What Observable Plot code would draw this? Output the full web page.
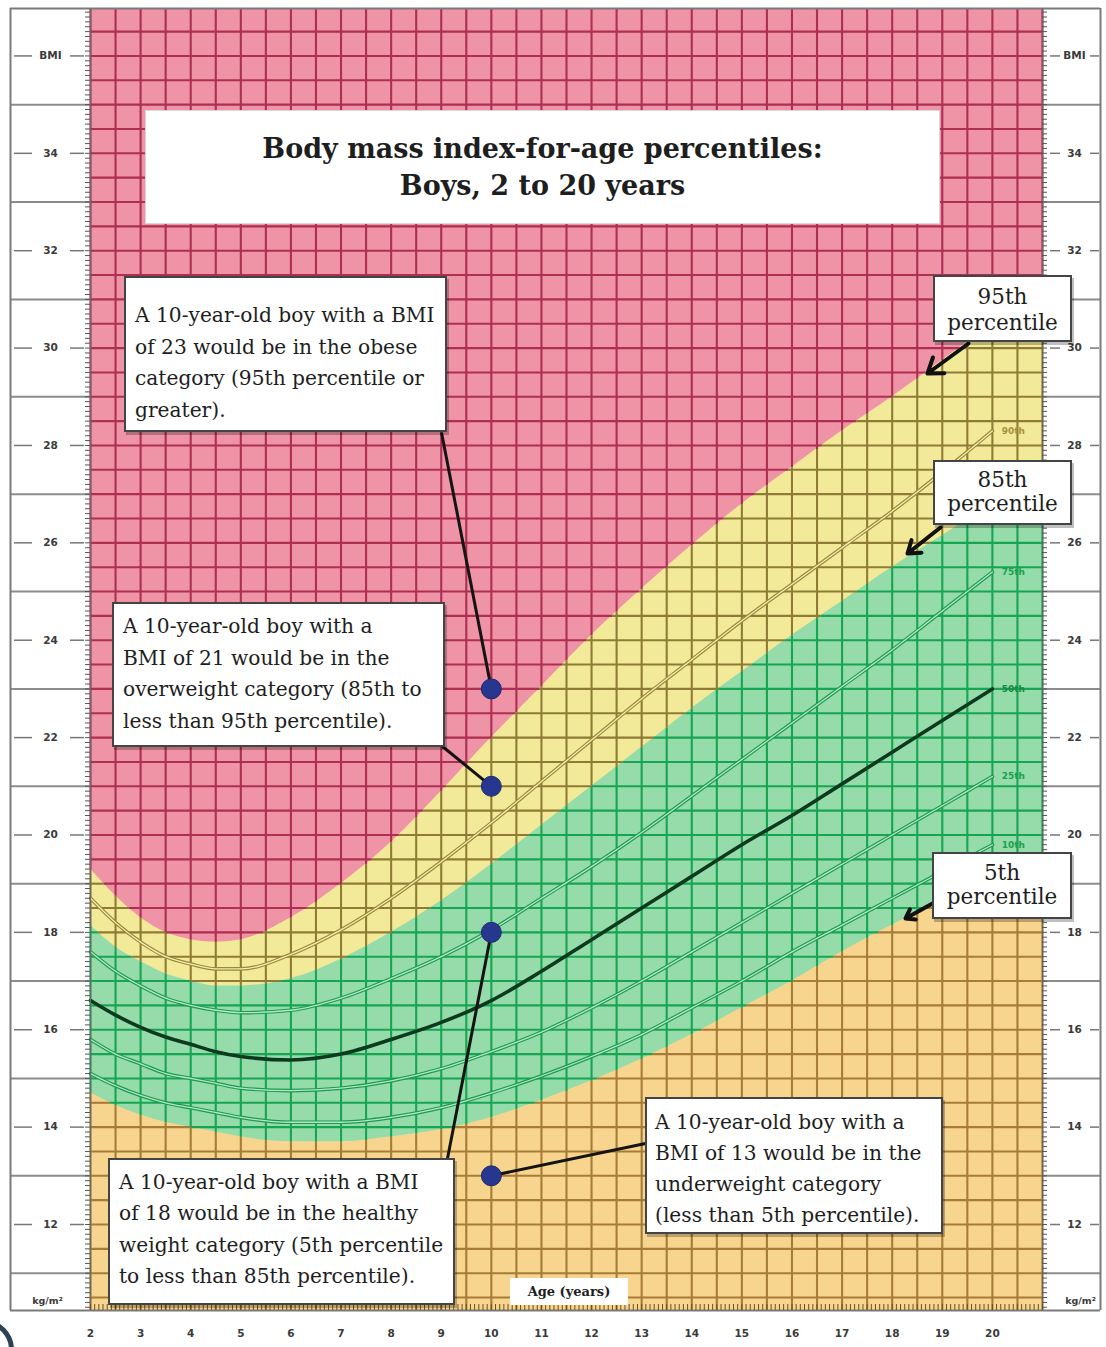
<!DOCTYPE html>
<html><head><meta charset="utf-8">
<script src="https://cdn.jsdelivr.net/npm/d3@7"></script>
<script src="https://cdn.jsdelivr.net/npm/@observablehq/plot@0.6"></script>
<style>
html,body{margin:0;padding:0;background:#fff;overflow:hidden;}
#wrap{position:relative;width:1106px;height:1347px;overflow:hidden;background:#fff;}
#chart{position:absolute;left:0;top:0;}
.box{position:absolute;background:#fff;box-sizing:border-box;font-family:"DejaVu Serif",serif;color:#1e1e1e;white-space:nowrap;}
.note{border:2px solid #444;box-shadow:2px 3px 0 rgba(0,0,0,0.25);font-size:20.2px;}
.tag{border:2px solid #444;box-shadow:2px 3px 0 rgba(0,0,0,0.25);font-size:21.5px;text-align:center;}
.title{font-weight:bold;font-size:27px;text-align:center;border:1px solid #d8d8d8;}
.age{font-weight:bold;font-size:13px;text-align:center;line-height:27px;}
.arc{position:absolute;border:5px solid #2e4352;border-radius:50%;box-sizing:border-box;}
</style></head>
<body><div id="wrap"><div id="chart"></div></div>
<script>
// ---------------- data ----------------
const ages = [2, 2.5, 3, 3.5, 4, 4.5, 5, 6, 7, 8, 9, 10, 11, 12, 13, 14, 15, 16, 17, 18, 19, 20];
const p5  = [14.7,14.45,14.25,14.1,14.0,13.9,13.8,13.7,13.7,13.8,13.95,14.2,14.55,14.95,15.4,15.9,16.45,17.0,17.6,18.15,18.65,19.1];
const p10 = [15.1,14.85,14.65,14.5,14.4,14.3,14.2,14.1,14.1,14.2,14.4,14.7,15.05,15.45,15.9,16.45,17.0,17.6,18.15,18.7,19.25,19.8];
const p25 = [15.8,15.5,15.3,15.1,15.0,14.9,14.8,14.75,14.8,14.95,15.2,15.55,15.95,16.45,17.0,17.6,18.2,18.8,19.4,20.0,20.6,21.2];
const p50 = [16.6,16.3,16.05,15.85,15.7,15.55,15.45,15.38,15.5,15.8,16.15,16.6,17.2,17.85,18.5,19.15,19.8,20.4,21.05,21.7,22.35,23.0];
const p75 = [17.6,17.2,16.9,16.65,16.5,16.4,16.35,16.4,16.65,17.05,17.5,18.05,18.7,19.35,20.05,20.8,21.55,22.3,23.05,23.8,24.6,25.4];
const p85 = [18.15,17.7,17.4,17.15,17.0,16.9,16.9,17.05,17.45,18.0,18.65,19.4,20.2,21.0,21.8,22.6,23.35,24.1,24.8,25.5,26.15,26.8];
const p90 = [18.7,18.2,17.8,17.5,17.35,17.25,17.25,17.55,18.05,18.7,19.45,20.25,21.1,21.95,22.8,23.6,24.4,25.15,25.9,26.65,27.45,28.3];
const p95 = [19.3,18.75,18.3,18.0,17.85,17.8,17.85,18.3,19.0,19.85,20.9,22.0,23.05,24.1,25.05,25.95,26.8,27.55,28.3,29.0,29.75,30.5];

const innerCurves = ["p10", "p25", "p75", "p90"];
const curveLabels = {p90: "90th", p75: "75th", p50: "50th", p25: "25th", p10: "10th"};

const exampleAge = 10;
const exampleBmi = [23, 21, 18, 13];

const ageTicks = [2,3,4,5,6,7,8,9,10,11,12,13,14,15,16,17,18,19,20];
const bmiTicks = [12,14,16,18,20,22,24,26,28,30,32,34];
const bmiSeparators = [11,13,15,17,19,21,23,25,27,29,31,33,35];
const bmiUnitTop = "BMI";
const bmiUnitBottom = "kg/m²";

const titleLines = ["Body mass index-for-age percentiles:", "Boys, 2 to 20 years"];
const axisTitle = "Age (years)";
const noteTexts = [
  ["A 10-year-old boy with a BMI", "of 23 would be in the obese", "category (95th percentile or", "greater)."],
  ["A 10-year-old boy with a", "BMI of 21 would be in the", "overweight category (85th to", "less than 95th percentile)."],
  ["A 10-year-old boy with a BMI", "of 18 would be in the healthy", "weight category (5th percentile", "to less than 85th percentile)."],
  ["A 10-year-old boy with a", "BMI of 13 would be in the", "underweight category", "(less than 5th percentile)."]
];
const tagTexts = [["95th", "percentile"], ["85th", "percentile"], ["5th", "percentile"]];

// ---------------- layout / style ----------------
const W = 1106, H = 1347, ML = 90, MR = 64, MT = 8, MB = 37;
const pxPerBmi = 48.69;
const yLo = 12 - (H - MB - 1224) / pxPerBmi, yHi = 12 + (1224 - MT) / pxPerBmi;
const xDom = [2, 21];
const X = Plot.scale({x: {domain: xDom, range: [ML, W - MR]}});
const Y = Plot.scale({y: {domain: [yLo, yHi], range: [H - MB, MT]}});

const regionFill = ["#f8d58e", "#95dcaa", "#f3ea99", "#ef93a7"];   // under 5th, healthy, overweight, obese
const gridStroke = ["#a67c36", "#17a453", "#8e7c36", "#ad2f52"];

const layout = {
  title: {left: 145, top: 110, width: 795, height: 114, padTop: 19, lh: 37},
  notes: [
    {left: 124, top: 276, width: 323, height: 156, padTop: 22, padLeft: 9, lh: 31.7},
    {left: 112, top: 602, width: 333, height: 145, padTop: 7,  padLeft: 9, lh: 31.7},
    {left: 108, top: 1158, width: 347, height: 147, padTop: 7, padLeft: 9, lh: 31.3},
    {left: 645, top: 1097, width: 298, height: 137, padTop: 8,  padLeft: 8, lh: 31}
  ],
  tags: [
    {left: 933, top: 275, width: 139, height: 67, padTop: 7, lh: 26},
    {left: 933, top: 460, width: 139, height: 65, padTop: 6, lh: 24},
    {left: 932, top: 852, width: 140, height: 67, padTop: 7, lh: 24}
  ],
  age: {left: 510, top: 1278, width: 118, height: 27},
  leaderAnchors: [[441, 432], [442, 746], [447, 1158], [645, 1143]],
  arrows: [ {from: [968, 343], to: [927, 373]}, {from: [940, 527], to: [907, 553]}, {from: [932, 903], to: [905, 918]} ]
};

// ---------------- table ----------------
const rows = ages.map((a, i) => ({age: a, p5: p5[i], p10: p10[i], p25: p25[i], p50: p50[i], p75: p75[i], p85: p85[i], p90: p90[i], p95: p95[i]}));
const last = rows[rows.length - 1];

// monotone-x interpolation identical to d3.curveMonotoneX (used only to colour grid lines per band)
function mono(xs, ys) {
  const n = xs.length, s = [], t = new Array(n);
  for (let i = 0; i < n - 1; i++) s[i] = (ys[i + 1] - ys[i]) / (xs[i + 1] - xs[i]);
  for (let i = 1; i < n - 1; i++) {
    const h0 = xs[i] - xs[i - 1], h1 = xs[i + 1] - xs[i], s0 = s[i - 1], s1 = s[i];
    const p = (s0 * h1 + s1 * h0) / (h0 + h1);
    t[i] = (Math.sign(s0) + Math.sign(s1)) * Math.min(Math.abs(s0), Math.abs(s1), 0.5 * Math.abs(p)) || 0;
  }
  t[0] = (3 * s[0] - t[1]) / 2; t[n - 1] = (3 * s[n - 2] - t[n - 2]) / 2;
  return x => {
    if (x <= xs[0]) return ys[0];
    if (x >= xs[n - 1]) return ys[n - 1];
    let i = Math.min(d3.bisectRight(xs, x) - 1, n - 2);
    const h = xs[i + 1] - xs[i], u = (x - xs[i]) / h, u2 = u * u, u3 = u2 * u;
    return (2*u3 - 3*u2 + 1) * ys[i] + (u3 - 2*u2 + u) * h * t[i] + (-2*u3 + 3*u2) * ys[i + 1] + (u3 - u2) * h * t[i + 1];
  };
}
const f5 = mono(ages, p5), f85 = mono(ages, p85), f95 = mono(ages, p95);
const bounds = a => [yLo, f5(a), f85(a), f95(a), yHi];
function region(a, b) { const bb = bounds(a); return b < bb[1] ? 0 : b < bb[2] ? 1 : b < bb[3] ? 2 : 3; }

const gridSegs = [[], [], [], []];
for (const a of d3.range(xDom[0], xDom[1] + 0.001, 0.5)) {
  const bb = bounds(a);
  for (let k = 0; k < 4; k++) if (bb[k + 1] > bb[k]) gridSegs[k].push({x1: a, x2: a, y1: bb[k], y2: bb[k + 1]});
}
const stepA = 0.005;
for (const b of d3.range(10.5, yHi, 0.5)) {
  let start = xDom[0], cur = region(start, b);
  for (let a = xDom[0] + stepA; a <= xDom[1] + 1e-9; a += stepA) {
    const r = region(a, b);
    if (r !== cur) { gridSegs[cur].push({x1: start, x2: a - stepA / 2, y1: b, y2: b}); start = a - stepA / 2; cur = r; }
  }
  gridSegs[cur].push({x1: start, x2: xDom[1], y1: b, y2: b});
}

const curve = "monotone-x";
const labelRows = Object.keys(curveLabels).map(k => ({k, v: last[k], t: curveLabels[k]}));
const leaders = exampleBmi.map((b, i) => ({bmi: b, ax: X.invert(layout.leaderAnchors[i][0]), ay: Y.invert(layout.leaderAnchors[i][1])}));
const arrowRows = layout.arrows.map(d => ({x1: X.invert(d.from[0]), y1: Y.invert(d.from[1]), x2: X.invert(d.to[0]), y2: Y.invert(d.to[1])}));

const leftOuter = X.invert(10), rightOuter = X.invert(1100);
const leftLabelX = X.invert(50), rightLabelX = X.invert(1074);
const bmiRuler = d3.range(Math.ceil(yLo * 10) / 10, yHi, 0.1);
const monthRuler = d3.range(2, 21.0001, 1 / 12);
const sideFont = {fontSize: 10.5, fontWeight: "bold", fill: "#3a3a3a", fontFamily: "DejaVu Sans"};

const sideMarks = [
  Plot.ruleY(bmiSeparators, {x1: leftOuter, x2: xDom[0], stroke: "#8c8c8c", strokeWidth: 2}),
  Plot.ruleY(bmiSeparators, {x1: xDom[1], x2: rightOuter, stroke: "#8c8c8c", strokeWidth: 2}),
  Plot.ruleY([yLo, yHi], {x1: leftOuter, x2: rightOuter, stroke: "#7a7a7a", strokeWidth: 2}),
  Plot.ruleX([leftOuter, rightOuter], {y1: yLo, y2: yHi, stroke: "#7a7a7a", strokeWidth: 2}),
  Plot.ruleX(xDom, {y1: yLo, y2: yHi, stroke: "#6a6a6a", strokeWidth: 1.2}),
  Plot.ruleY(bmiRuler, {x1: X.invert(85), x2: xDom[0], stroke: "#555", strokeWidth: 1}),
  Plot.ruleY(bmiRuler, {x1: xDom[1], x2: X.invert(1047), stroke: "#555", strokeWidth: 1}),
  Plot.ruleX(monthRuler, {y1: yLo, y2: Y.invert(H - MB - 6), stroke: "#6b5020", strokeWidth: 1}),
  Plot.ruleY(bmiTicks.concat([36]), {x1: X.invert(14), x2: X.invert(32), stroke: "#777", strokeWidth: 1.5}),
  Plot.ruleY(bmiTicks.concat([36]), {x1: X.invert(70), x2: X.invert(84), stroke: "#777", strokeWidth: 1.5}),
  Plot.ruleY(bmiTicks.concat([36]), {x1: X.invert(1050), x2: X.invert(1060), stroke: "#777", strokeWidth: 1.5}),
  Plot.ruleY(bmiTicks.concat([36]), {x1: X.invert(1090), x2: X.invert(1099), stroke: "#777", strokeWidth: 1.5}),
  Plot.text(bmiTicks, {x: leftLabelX, y: d => d, text: d => String(d), ...sideFont}),
  Plot.text(bmiTicks, {x: rightLabelX, y: d => d, text: d => String(d), ...sideFont}),
  Plot.text([bmiUnitTop], {x: leftLabelX, y: 36, text: d => d, ...sideFont}),
  Plot.text([bmiUnitTop], {x: rightLabelX, y: 36, text: d => d, ...sideFont}),
  Plot.text([bmiUnitBottom], {x: X.invert(47), y: Y.invert(1300), text: d => d, ...sideFont, fontSize: 9.5}),
  Plot.text([bmiUnitBottom], {x: X.invert(1080), y: Y.invert(1300), text: d => d, ...sideFont, fontSize: 9.5}),
  Plot.text(ageTicks, {x: d => d, y: yLo, dy: 23, text: d => String(d), ...sideFont})
];

const chart = Plot.plot({
  width: W, height: H, marginLeft: ML, marginRight: MR, marginTop: MT, marginBottom: MB,
  x: {domain: xDom, axis: null},
  y: {domain: [yLo, yHi], axis: null},
  style: {background: "transparent", overflow: "visible"},
  marks: [
    Plot.frame({fill: regionFill[3], stroke: null}),
    Plot.areaY(rows, {x: "age", y1: yLo, y2: "p95", fill: regionFill[2], curve}),
    Plot.rect([last], {x1: 19.99, x2: xDom[1], y1: yLo, y2: "p95", fill: regionFill[2]}),
    Plot.areaY(rows, {x: "age", y1: yLo, y2: "p85", fill: regionFill[1], curve}),
    Plot.rect([last], {x1: 19.99, x2: xDom[1], y1: yLo, y2: "p85", fill: regionFill[1]}),
    Plot.areaY(rows, {x: "age", y1: yLo, y2: "p5", fill: regionFill[0], curve}),
    Plot.rect([last], {x1: 19.99, x2: xDom[1], y1: yLo, y2: "p5", fill: regionFill[0]}),
    ...gridSegs.map((segs, k) => Plot.link(segs, {x1: "x1", y1: "y1", x2: "x2", y2: "y2", stroke: gridStroke[k], strokeWidth: 2.1})),
    ...innerCurves.map(k => Plot.line(rows, {x: "age", y: k, curve, stroke: k === "p90" ? "#9a8838" : "#1d9a52", strokeWidth: 3.6})),
    ...innerCurves.map(k => Plot.line(rows, {x: "age", y: k, curve, stroke: k === "p90" ? "#f4ecb4" : "#b2e9c3", strokeWidth: 1.3})),
    Plot.line(rows, {x: "age", y: "p50", curve, stroke: "#0d3a1f", strokeWidth: 3.6}),
    Plot.text(labelRows, {x: 20, y: "v", text: "t", dx: 21, fontSize: 9, fontWeight: "bold", fontFamily: "DejaVu Sans",
      fill: d => d.k === "p90" ? "#a3913a" : d.k === "p50" ? "#128a45" : "#19a052"}),
    ...sideMarks,
    Plot.link(leaders, {x1: exampleAge, y1: "bmi", x2: "ax", y2: "ay", stroke: "#141414", strokeWidth: 3}),
    Plot.arrow(arrowRows, {x1: "x1", y1: "y1", x2: "x2", y2: "y2", stroke: "#111", strokeWidth: 4, headLength: 9, headAngle: 70}),
    Plot.dot(exampleBmi, {x: exampleAge, y: d => d, r: 10, fill: "#27378f", stroke: "#1d2a6e", strokeWidth: 1})
  ]
});
const wrap = document.getElementById("wrap");
document.getElementById("chart").appendChild(chart);

// ---------------- annotation boxes (HTML overlay) ----------------
function addBox(cls, L, lines) {
  const el = document.createElement("div");
  el.className = "box " + cls;
  Object.assign(el.style, {left: L.left + "px", top: L.top + "px", width: L.width + "px", height: L.height + "px",
    paddingTop: (L.padTop || 0) + "px", paddingLeft: (L.padLeft || 0) + "px"});
  for (const t of lines) {
    const ln = document.createElement("div");
    ln.textContent = t;
    ln.style.height = L.lh + "px"; ln.style.lineHeight = L.lh + "px";
    el.appendChild(ln);
  }
  wrap.appendChild(el);
}
addBox("title", layout.title, titleLines);
noteTexts.forEach((lines, i) => addBox("note", layout.notes[i], lines));
tagTexts.forEach((lines, i) => addBox("tag", layout.tags[i], lines));
const ageEl = document.createElement("div");
ageEl.className = "box age";
Object.assign(ageEl.style, {left: layout.age.left + "px", top: layout.age.top + "px", width: layout.age.width + "px", height: layout.age.height + "px"});
ageEl.textContent = axisTitle;
wrap.appendChild(ageEl);
const arc = document.createElement("div");
arc.className = "arc";
Object.assign(arc.style, {left: "-48px", top: "1319px", width: "62px", height: "62px"});
wrap.appendChild(arc);
</script></body></html>
